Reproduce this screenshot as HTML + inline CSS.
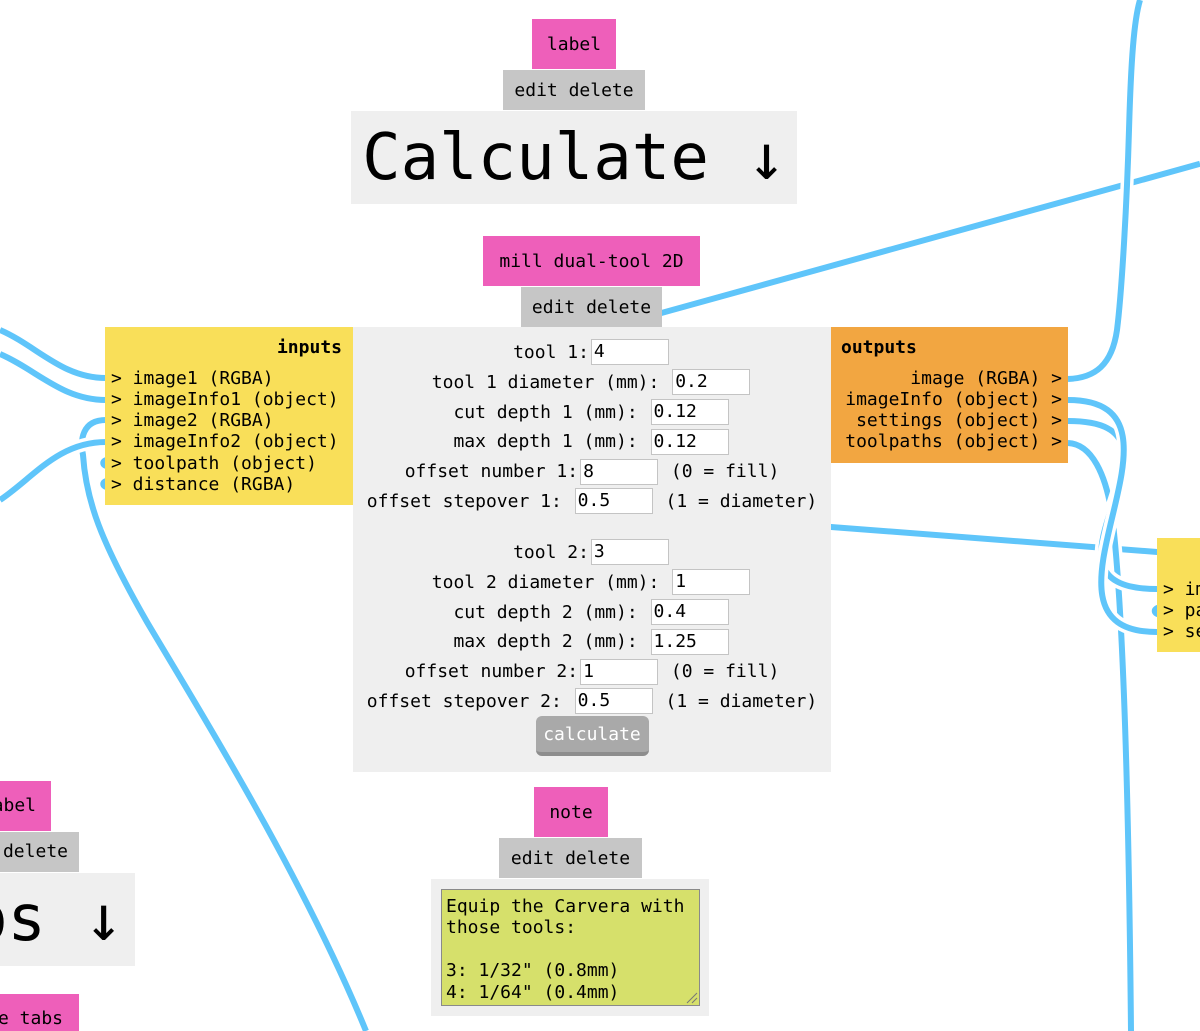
<!DOCTYPE html>
<html>
<head>
<meta charset="utf-8">
<style>
  html,body{margin:0;padding:0;}
  body{width:1200px;height:1031px;overflow:hidden;position:relative;background:#fff;
       font-family:"DejaVu Sans Mono","Liberation Mono",monospace;font-size:18px;color:#000;}
  .a{position:absolute;box-sizing:border-box;}
  .c{display:flex;align-items:center;justify-content:center;white-space:pre;}
  .pk{background:#ee5fba;height:50px;}
  .ed{background:#c6c6c6;}
  .big{background:#efefef;font-size:64px;}
  .clip{overflow:hidden;}
  .rt{position:absolute;white-space:pre;}
  svg{position:absolute;left:0;top:0;}
  .inp{background:#f9df59;padding:9.5px 11px 10px 6px;line-height:21.2px;white-space:pre;}
  .inp .h{font-weight:bold;text-align:right;margin-bottom:10px;}
  .out{background:#f2a641;padding:9.5px 6px 10px 10px;line-height:21.2px;white-space:pre;}
  .out .h{font-weight:bold;text-align:left;margin-bottom:10px;}
  .out .r{text-align:right;}
  .body{background:#efefef;padding-top:10.6px;}
  .row{display:flex;justify-content:center;align-items:center;height:29.8px;white-space:pre;}
  .row i{font-style:normal;display:inline-block;box-sizing:border-box;width:78px;height:26px;
         border:1px solid #c4c4c4;background:#fff;margin:0 2px;padding:0 2px;line-height:24px;}
  .btn{margin:0 auto 0;width:113px;height:40px;box-sizing:border-box;background:#a9a9a9;
       border-bottom:4px solid #8d8d8d;border-radius:6px;color:#fff;display:flex;align-items:center;justify-content:center;}
  .ta{background:#d6e06b;border:1px solid #8a8a8a;padding:5.5px 0 0 4px;line-height:21.5px;white-space:pre;}
</style>
</head>
<body>

<svg width="1200" height="1031" viewBox="0 0 1200 1031">
  <g fill="none" stroke-linecap="butt">
    <path d="M600,330 L1200,163.8" stroke="#fff" stroke-width="13"/>
    <path d="M600,330 L1200,163.8" stroke="#5fc5fa" stroke-width="6"/>
    <path d="M800,524.6 L1165,552.6" stroke="#fff" stroke-width="13"/>
    <path d="M800,524.6 L1165,552.6" stroke="#5fc5fa" stroke-width="6"/>
    <path d="M106,420 C82,420 80,440 83,455 C86,500 100,540 147,622 C190,695 300,870 366,1031" stroke="#fff" stroke-width="13"/>
    <path d="M106,420 C82,420 80,440 83,455 C86,500 100,540 147,622 C190,695 300,870 366,1031" stroke="#5fc5fa" stroke-width="6"/>
    <path d="M0,330 C37,346 62,378 106,378" stroke="#fff" stroke-width="13"/>
    <path d="M0,330 C37,346 62,378 106,378" stroke="#5fc5fa" stroke-width="6"/>
    <path d="M0,354 C37,370 62,400 106,400" stroke="#fff" stroke-width="13"/>
    <path d="M0,354 C37,370 62,400 106,400" stroke="#5fc5fa" stroke-width="6"/>
    <path d="M0,500 C33,478 58,442 106,442" stroke="#fff" stroke-width="13"/>
    <path d="M0,500 C33,478 58,442 106,442" stroke="#5fc5fa" stroke-width="6"/>
    <path d="M110,459.5 C101,459.5 101,466.5 110,466.5" stroke="#5fc5fa" stroke-width="6"/>
    <path d="M110,480.5 C101,480.5 101,487.5 110,487.5" stroke="#5fc5fa" stroke-width="6"/>
    <path d="M1163,607 C1152,607 1152,615 1163,615" stroke="#5fc5fa" stroke-width="6"/>
    <path d="M1068,443 C1092,444 1106,475 1112,515 C1120,580 1128,720 1131,1031" stroke="#fff" stroke-width="13"/>
    <path d="M1068,443 C1092,444 1106,475 1112,515 C1120,580 1128,720 1131,1031" stroke="#5fc5fa" stroke-width="6"/>
    <path d="M1068,421 C1213,421 1012,589 1157,589" stroke="#fff" stroke-width="13"/>
    <path d="M1068,421 C1213,421 1012,589 1157,589" stroke="#5fc5fa" stroke-width="6"/>
    <path d="M1068,400 C1213,400 1012,632 1157,632" stroke="#fff" stroke-width="13"/>
    <path d="M1068,400 C1213,400 1012,632 1157,632" stroke="#5fc5fa" stroke-width="6"/>
    <path d="M1068,379 C1095,378 1112,365 1117,330 C1122,290 1127,200 1129,130 C1131,60 1134,20 1140,0" stroke="#fff" stroke-width="13"/>
    <path d="M1068,379 C1095,378 1112,365 1117,330 C1122,290 1127,200 1129,130 C1131,60 1134,20 1140,0" stroke="#5fc5fa" stroke-width="6"/>
  </g>
</svg>

<!-- Calculate label node -->
<div class="a c pk" style="left:532px;top:19px;width:84px;">label</div>
<div class="a c ed" style="left:503px;top:70px;width:142px;height:40px;">edit delete</div>
<div class="a c big" style="left:351px;top:111px;width:446px;height:93px;">Calculate ↓</div>

<!-- mill node -->
<div class="a c pk" style="left:483px;top:236px;width:217px;">mill dual-tool 2D</div>
<div class="a c ed" style="left:521px;top:287px;width:141px;height:40px;">edit delete</div>

<div class="a inp" style="left:105px;top:327px;width:248px;height:178px;"><div class="h">inputs</div><div>&gt; image1 (RGBA)</div><div>&gt; imageInfo1 (object)</div><div>&gt; image2 (RGBA)</div><div>&gt; imageInfo2 (object)</div><div>&gt; toolpath (object)</div><div>&gt; distance (RGBA)</div></div>

<div class="a body" style="left:353px;top:327px;width:478px;height:445px;">
  <div class="row"><span>tool 1:</span><i>4</i></div>
  <div class="row"><span>tool 1 diameter (mm): </span><i>0.2</i></div>
  <div class="row"><span>cut depth 1 (mm): </span><i>0.12</i></div>
  <div class="row"><span>max depth 1 (mm): </span><i>0.12</i></div>
  <div class="row"><span>offset number 1:</span><i>8</i><span> (0 = fill)</span></div>
  <div class="row"><span>offset stepover 1: </span><i>0.5</i><span> (1 = diameter)</span></div>
  <div style="height:21.2px"></div>
  <div class="row"><span>tool 2:</span><i>3</i></div>
  <div class="row"><span>tool 2 diameter (mm): </span><i>1</i></div>
  <div class="row"><span>cut depth 2 (mm): </span><i>0.4</i></div>
  <div class="row"><span>max depth 2 (mm): </span><i>1.25</i></div>
  <div class="row"><span>offset number 2:</span><i>1</i><span> (0 = fill)</span></div>
  <div class="row"><span>offset stepover 2: </span><i>0.5</i><span> (1 = diameter)</span></div>
  <div class="btn">calculate</div>
</div>

<div class="a out" style="left:831px;top:327px;width:237px;height:136px;"><div class="h">outputs</div><div class="r">image (RGBA) &gt;</div><div class="r">imageInfo (object) &gt;</div><div class="r">settings (object) &gt;</div><div class="r">toolpaths (object) &gt;</div></div>

<!-- right node partial (clipped) -->
<div class="a clip" style="left:1157px;top:538px;width:43px;height:114px;background:#f9df59;">
  <div class="rt" style="left:6px;top:9.5px;line-height:21.2px;"><div>&nbsp;</div><div style="height:10px"></div><div>&gt; image (RGBA)</div><div>&gt; path (array)</div><div>&gt; settings (object)</div></div>
</div>

<!-- note -->
<div class="a c pk" style="left:534px;top:787px;width:74px;">note</div>
<div class="a c ed" style="left:499px;top:838px;width:143px;height:40px;">edit delete</div>
<div class="a" style="left:431px;top:879px;width:278px;height:137px;background:#efefef;"></div>
<div class="a ta" style="left:441px;top:889px;width:259px;height:117px;">Equip the Carvera with
those tools:

3: 1/32" (0.8mm)
4: 1/64" (0.4mm)</div>
<svg width="1200" height="1031" style="pointer-events:none">
  <path d="M687,1003 L697,993 M692,1003 L697,998" stroke="#777" stroke-width="1" fill="none"/>
</svg>

<!-- left bottom partial nodes (clipped) -->
<div class="a clip" style="left:0;top:781px;width:51px;height:50px;background:#ee5fba;">
  <div class="rt" style="right:15px;top:0;height:50px;line-height:50px;">label</div>
</div>
<div class="a clip" style="left:0;top:832px;width:79px;height:40px;background:#c6c6c6;">
  <div class="rt" style="right:11px;top:0;height:40px;line-height:40px;">edit delete</div>
</div>
<div class="a clip" style="left:0;top:873px;width:135px;height:93px;background:#efefef;">
  <div class="rt" style="right:12px;top:0;height:93px;line-height:93px;font-size:64px;">Tabs ↓</div>
</div>
<div class="a clip" style="left:0;top:994px;width:79px;height:37px;background:#ee5fba;">
  <div class="rt" style="right:16px;top:0;height:50px;line-height:50px;">create tabs</div>
</div>

</body>
</html>
